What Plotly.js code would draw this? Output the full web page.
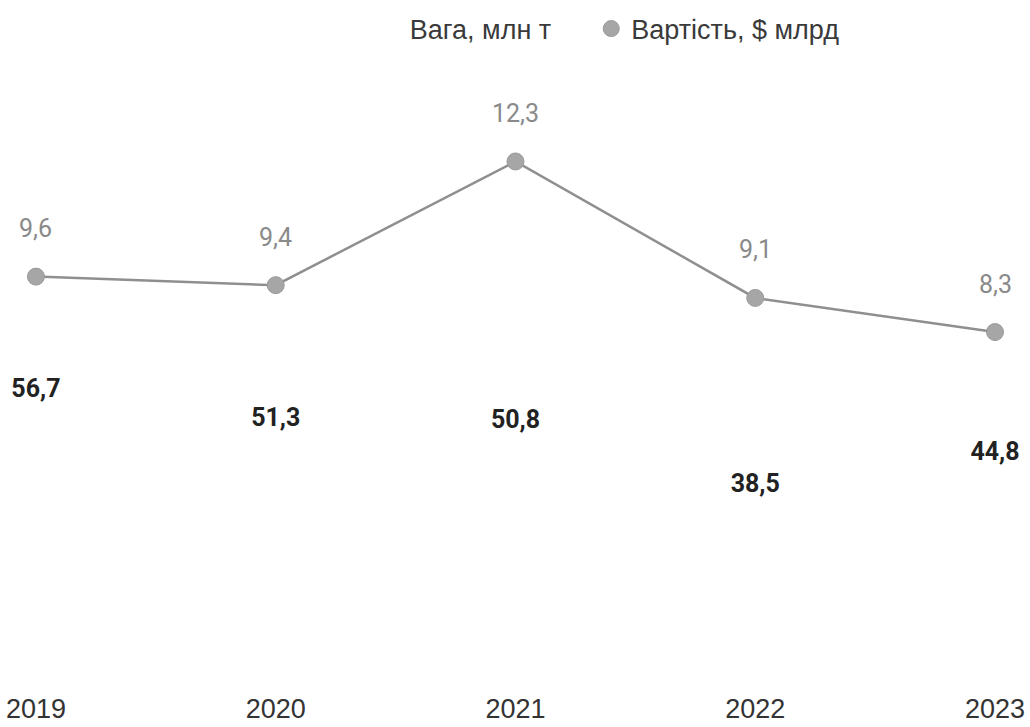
<!DOCTYPE html>
<html>
<head>
<meta charset="utf-8">
<script src="https://cdn.plot.ly/plotly-3.0.1.min.js"></script>
<style>html,body{margin:0;padding:0;background:#fff;}#chart{width:1030px;height:727px;}</style>
</head>
<body>
<div id="chart"></div>
<script>
const years = ['2019', '2020', '2021', '2022', '2023'];
const weight = [56.7, 51.3, 50.8, 38.5, 44.8];   // Вага, млн т
const value = [9.6, 9.4, 12.3, 9.1, 8.3];        // Вартість, $ млрд
const seriesNames = ['Вага, млн т', 'Вартість, $ млрд'];

const fmt = v => v.toFixed(1).replace('.', ',');

const traces = [
  {
    type: 'bar',
    name: seriesNames[0],
    legend: 'legend',
    x: years,
    y: weight,
    marker: {color: 'rgba(255,255,255,0)', line: {width: 0}},
    text: weight.map(fmt),
    textposition: 'outside',
    textfont: {family: 'Roboto', size: 25, color: '#222', weight: 700},
    cliponaxis: false,
    hoverinfo: 'skip',
    width: 0.5
  },
  {
    type: 'scatter',
    mode: 'lines',
    name: seriesNames[1],
    showlegend: false,
    x: years,
    y: value,
    yaxis: 'y2',
    line: {color: '#8f8f8f', width: 2.5},
    cliponaxis: false
  },
  {
    type: 'scatter',
    mode: 'markers',
    name: seriesNames[1],
    legend: 'legend2',
    x: years,
    y: value,
    yaxis: 'y2',
    marker: {color: '#a6a6a6', size: 17, line: {color: '#999', width: 1}},
    cliponaxis: false
  }
];

const annotations = years.map((yr, i) => ({
  x: i, y: value[i], xref: 'x', yref: 'y2',
  text: fmt(value[i]), showarrow: false,
  yshift: 48, yanchor: 'middle', xanchor: 'center',
  font: {family: 'Roboto', size: 25, color: '#8a8a8a'}
}));

const hiddenAxis = {
  showgrid: false, zeroline: false, showline: false,
  showticklabels: false, ticks: ''
};

const legendFont = {family: 'Liberation Sans, Arial', size: 27, color: '#3a3a3a'};

const layout = {
  width: 1030, height: 727,
  margin: {l: 0, r: 0, t: 86, b: 41},
  paper_bgcolor: '#fff', plot_bgcolor: '#fff',
  separators: ', ',
  showlegend: true,
  legend: {
    orientation: 'h', x: 0.359, xanchor: 'left', y: 1.095, yanchor: 'middle',
    font: legendFont, itemclick: false
  },
  legend2: {
    orientation: 'h', x: 0.574, xanchor: 'left', y: 1.095, yanchor: 'middle',
    font: legendFont, itemclick: false
  },
  xaxis: {
    type: 'category', range: [-0.15, 4.146],
    showgrid: false, zeroline: false, showline: false, ticks: '',
    tickfont: {family: 'Liberation Sans, Arial', size: 27, color: '#333'},
    ticklabelstandoff: 4
  },
  yaxis: Object.assign({range: [3.14, 118.1]}, hiddenAxis),
  yaxis2: Object.assign({range: [0, 14.07], overlaying: 'y', side: 'right'}, hiddenAxis),
  annotations: annotations
};

Plotly.newPlot('chart', traces, layout, {displayModeBar: false, staticPlot: true});
</script>
</body>
</html>
